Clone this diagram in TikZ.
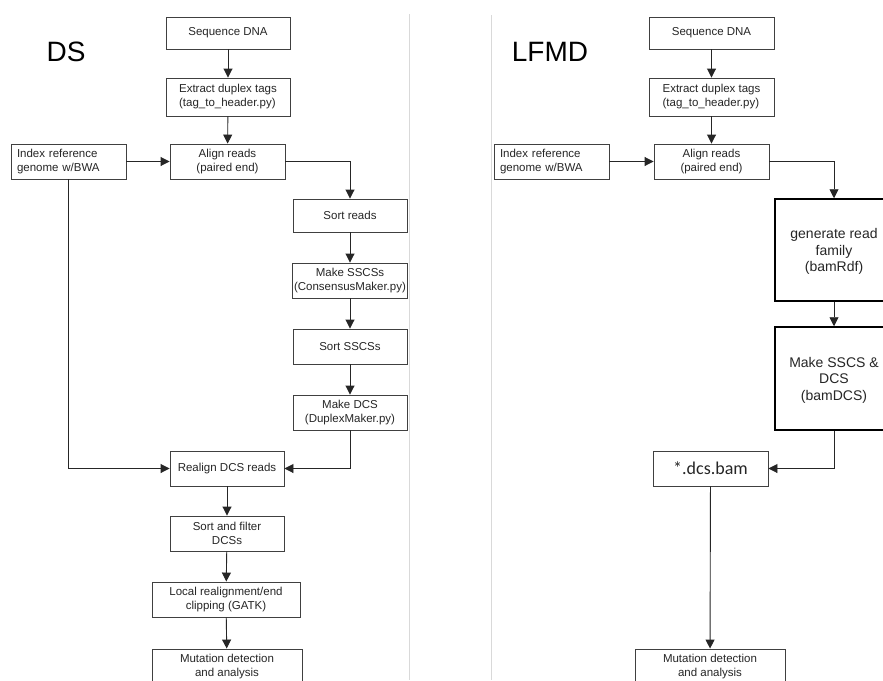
\documentclass[tikz,border=0pt]{standalone}
\usepackage{fontspec}
\setmainfont{Liberation Sans}
\newfontfamily\calfont{Carlito}
\usetikzlibrary{arrows.meta}
\begin{document}
\begin{tikzpicture}[x=1pt,y=-1pt,
  box/.style={draw=black!75, line width=0.9pt, fill=white, inner sep=2pt,
    font=\fontsize{11.5}{14}\selectfont, text=black!85, align=center},
  bigbox/.style={draw=black, line width=1.5pt, fill=white, inner sep=2pt,
    font=\fontsize{14}{16.3}\selectfont, text=black!85, align=center},
  arr/.style={draw=black!85, line width=0.9pt, -{Triangle[width=9pt,length=9pt]}},
  title/.style={font=\fontsize{28}{30}\selectfont, text=black},
  divider/.style={draw=black!15, line width=0.8pt}
]
\useasboundingbox (0,0) rectangle (883,680);
\fill[white] (0,0) rectangle (883,680);

% dividers
\coordinate (d1a) at (409,14); \coordinate (d1b) at (409,680);
\coordinate (d2a) at (491,15); \coordinate (d2b) at (491,680);
\draw[divider] (d1a) -- (d1b);
\draw[divider] (d2a) -- (d2b);

% titles
\node[title] (ds) at (66,52) {DS};
\node[title] (lfmd) at (550,52) {LFMD};

% ---------- left (DS) ----------
\node[box, minimum width=124, minimum height=32] (seqL) at (228,33) {Sequence DNA};
\node[box, minimum width=124, minimum height=38, align=left] (extL) at (228,97) {Extract duplex tags\\(tag\_to\_header.py)};
\node[box, minimum width=115, minimum height=35] (alignL) at (227.5,161.5) {Align reads\\(paired end)};
\node[box, minimum height=35, text width=103, inner xsep=6pt, align=left] (idxL) at (68.5,161.5) {Index reference\\genome w/BWA};
\node[box, minimum width=114, minimum height=33] (sortL) at (350,215.5) {Sort reads};
\node[box, minimum width=114, minimum height=35] (sscsL) at (350,280.5) {Make SSCSs\\(ConsensusMaker.py)};
\node[box, minimum width=114, minimum height=35] (sortsL) at (350,346.5) {Sort SSCSs};
\node[box, minimum width=114, minimum height=35] (dcsL) at (350,412.5) {Make DCS\\(DuplexMaker.py)};
\node[box, minimum width=114, minimum height=35] (realL) at (227,468.5) {Realign DCS reads};
\node[box, minimum width=114, minimum height=35] (sortfL) at (227,533.5) {Sort and filter\\DCSs};
\node[box, minimum width=148, minimum height=35] (localL) at (226,599.5) {Local realignment/end\\clipping (GATK)};
\node[box, minimum width=150, minimum height=36] (mutL) at (227,667) {Mutation detection\\and analysis};

\draw[arr] (seqL) -- (extL);
\draw[arr] (extL) -- (alignL);
\draw[arr] (idxL) -- (alignL);
\draw[arr] (alignL.east) -| (sortL.north);
\draw[arr] (sortL) -- (sscsL);
\draw[arr] (sscsL) -- (sortsL);
\draw[arr] (sortsL) -- (dcsL);
\draw[arr] (dcsL.south) |- (realL.east);
\draw[arr] (idxL.south) |- (realL.west);
\draw[arr] (realL) -- (sortfL);
\draw[arr] (sortfL) -- (localL);
\draw[arr] (localL) -- (mutL);

% ---------- right (LFMD) ----------
\node[box, minimum width=125, minimum height=32] (seqR) at (711.5,33) {Sequence DNA};
\node[box, minimum width=125, minimum height=38, align=left] (extR) at (711.5,97) {Extract duplex tags\\(tag\_to\_header.py)};
\node[box, minimum width=115, minimum height=35] (alignR) at (711.5,161.5) {Align reads\\(paired end)};
\node[box, minimum height=35, text width=103, inner xsep=6pt, align=left] (idxR) at (551.5,161.5) {Index reference\\genome w/BWA};
\node[bigbox, minimum width=118, minimum height=102] (genR) at (834,250) {\\[-3pt]generate read\\family\\(bamRdf)};
\node[bigbox, minimum width=118, minimum height=103] (mkR) at (834,378.5) {\\[-3pt]Make SSCS \&\\DCS\\(bamDCS)};
\node[box, minimum width=115, minimum height=35, font=\calfont\fontsize{18}{20}\selectfont] (bamR) at (710.5,468.5) {*.dcs.bam};
\node[box, minimum width=150, minimum height=36] (mutR) at (710,667) {Mutation detection\\and analysis};

\draw[arr] (seqR) -- (extR);
\draw[arr] (extR) -- (alignR);
\draw[arr] (idxR) -- (alignR);
\draw[arr] (alignR.east) -| (genR.north);
\draw[arr] (genR) -- (mkR);
\draw[arr] (mkR.south) |- (bamR.east);
\draw[arr] (bamR) -- (mutR);
\end{tikzpicture}
\end{document}
